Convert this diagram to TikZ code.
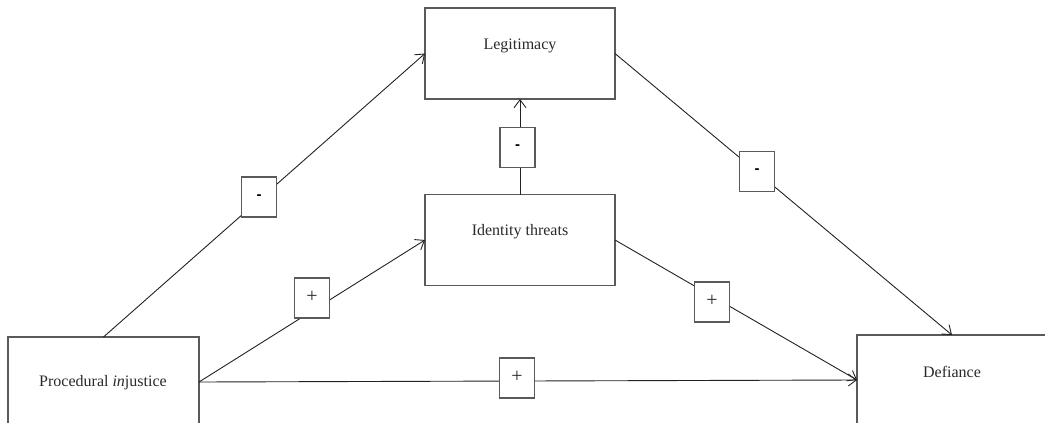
\documentclass[tikz,border=0pt]{standalone}
\usepackage{fontspec}
\setmainfont{Liberation Serif}
\newfontfamily\signsans{Liberation Sans}
\usetikzlibrary{arrows.meta}
\definecolor{boxgray}{HTML}{5A5A5A}
\definecolor{linedark}{HTML}{222222}
\definecolor{textgray}{HTML}{2A2A2A}
\tikzset{
  bigbox/.style={draw=boxgray, line width=1.2pt, fill=white, inner sep=0pt, outer sep=0pt, minimum width=190pt, minimum height=91pt},
  lbl/.style={inner sep=0pt, text=textgray, font=\fontsize{16}{18}\selectfont},
  signbox/.style={draw=boxgray, line width=1.2pt, fill=white, inner sep=0pt, outer sep=0pt, minimum width=35pt, minimum height=40pt},
  minus/.style={font=\signsans\bfseries\fontsize{15}{16}\selectfont},
  plus/.style={text=textgray, font=\fontsize{20}{22}\selectfont},
  conn/.style={draw=linedark, line width=0.9pt, -{Straight Barb[length=8pt,width=12pt,line width=0.9pt]}},
}
\begin{document}
\begin{tikzpicture}[x=1pt,y=-1pt]
\useasboundingbox (0,0) rectangle (1045,423);
\clip (0,0) rectangle (1045,423);
% boxes
\node[bigbox] (leg) at (520,53.5) {};
\node[lbl] (legt) at (520,46) {Legitimacy};
\node[bigbox] (idt) at (520,240) {};
\node[lbl] (idtt) at (520,232) {Identity threats};
\node[bigbox, minimum width=191pt, minimum height=90pt] (proc) at (103.5,382) {};
\node[lbl] (proct) at (103,383) {Procedural \textit{in}justice};
\node[bigbox, minimum height=90pt] (def) at (952,380) {};
\node[lbl] (deft) at (952,372) {Defiance};
% connectors
\draw[conn] (proc.north) -- (leg.west);
\draw[conn] (proc.east) -- (idt.west);
\draw[conn] (proc.east) -- (def.west);
\draw[conn] (idt.north) -- (leg.south);
\draw[conn] (leg.east) -- (def.north);
\draw[conn] (idt.east) -- (def.west);
% sign boxes
\node[signbox] (s1) at (259,197) {};
\node[minus] (s1t) at (259,197) {-};
\node[signbox] (s2) at (517.5,147.5) {};
\node[minus] (s2t) at (517.5,147.5) {-};
\node[signbox] (s3) at (757,171.5) {};
\node[minus] (s3t) at (757,171.5) {-};
\node[signbox] (s4) at (312,298) {};
\node[plus] (s4t) at (312,297) {+};
\node[signbox] (s5) at (712,302) {};
\node[plus] (s5t) at (712,301) {+};
\node[signbox] (s6) at (517,378) {};
\node[plus] (s6t) at (517,377) {+};
\end{tikzpicture}
\end{document}
